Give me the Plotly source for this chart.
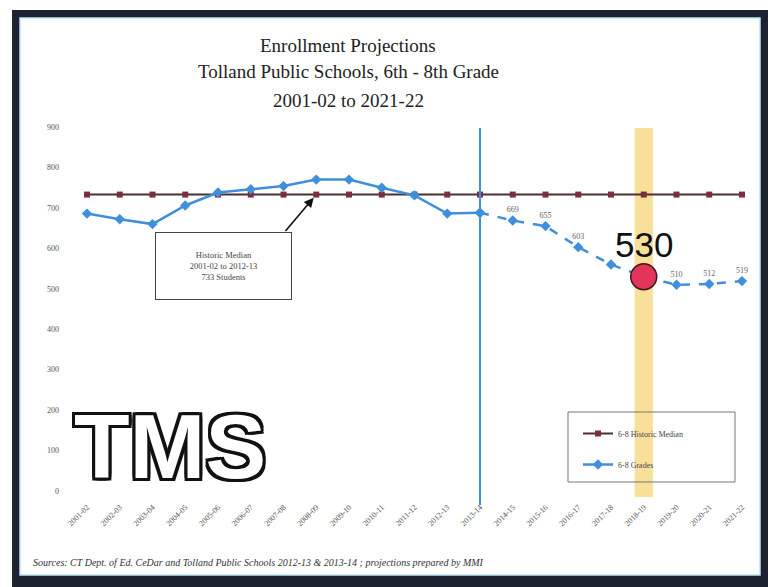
import plotly.graph_objects as go

years = ["2001-02", "2002-03", "2003-04", "2004-05", "2005-06", "2006-07", "2007-08",
         "2008-09", "2009-10", "2010-11", "2011-12", "2012-13", "2013-14", "2014-15",
         "2015-16", "2016-17", "2017-18", "2018-19", "2019-20", "2020-21", "2021-22"]
historic = [686, 672, 660, 706, 738, 746, 754, 770, 770, 750, 731, 686, 688]
projected = [688, 669, 655, 603, 560, 530, 510, 512, 519]
median_value = 733
median = [median_value] * len(years)
highlight_year = "2018-19"
highlight_value = 530
yticks = [0, 100, 200, 300, 400, 500, 600, 700, 800, 900]

hist_years = years[:len(historic)]
proj_years = years[len(historic) - 1:]
proj_labels = ["" if (y in ("2013-14", "2017-18", highlight_year)) else str(v)
               for y, v in zip(proj_years, projected)]

L, R, T, B = 60, 18, 122, 87
W, H = 768 - L - R, 587 - T - B


def px(x):
    return (x - L) / W


def py(y):
    return (587 - B - y) / H


BLUE = "#3f8fdc"
SERIF = "Liberation Serif, DejaVu Serif, serif"

fig = go.Figure()
fig.add_trace(go.Scatter(
    x=years, y=median, mode="lines+markers", name="6-8 Historic Median",
    line=dict(color="#4a2f30", width=2),
    marker=dict(symbol="square", size=6, color="#7d2d3e"),
    legendgroup="a"))
fig.add_trace(go.Scatter(
    x=hist_years, y=historic, mode="lines+markers", name="6-8 Grades",
    line=dict(color=BLUE, width=2.5),
    marker=dict(symbol="diamond", size=8, color=BLUE),
    legendgroup="b"))
fig.add_trace(go.Scatter(
    x=proj_years, y=projected, mode="lines+markers+text", name="6-8 Grades",
    line=dict(color=BLUE, width=2.5, dash="dash"),
    marker=dict(symbol="diamond", size=8, color=BLUE),
    text=proj_labels, textposition="top center",
    textfont=dict(family=SERIF, size=8, color="#666"),
    showlegend=False, legendgroup="b"))
fig.add_trace(go.Scatter(
    x=[highlight_year], y=[highlight_value], mode="markers", showlegend=False,
    marker=dict(size=26, color="#e3345a", line=dict(color="#3a1a1a", width=1.5))))

# frame
fig.add_shape(type="rect", xref="paper", yref="paper",
              x0=px(12), x1=px(772), y0=py(591), y1=py(10),
              fillcolor="#1d2230", line=dict(width=0), layer="below")
fig.add_shape(type="rect", xref="paper", yref="paper",
              x0=px(20), x1=px(760), y0=py(575), y1=py(18),
              fillcolor="white", line=dict(color="#bfe3f3", width=1.5), layer="below")
# highlight band and split line
fig.add_shape(type="rect", xref="x", yref="paper",
              x0=16.72, x1=17.28, y0=py(497), y1=py(128),
              fillcolor="#f5d57a", opacity=0.75, line=dict(width=0), layer="below")
fig.add_shape(type="line", xref="x", yref="paper",
              x0=12, x1=12, y0=py(505), y1=py(128),
              line=dict(color="#3f8fdc", width=2))
# legend box
fig.add_shape(type="rect", xref="paper", yref="paper",
              x0=px(568), x1=px(735), y0=py(482), y1=py(412),
              line=dict(color="#777", width=1), fillcolor="rgba(0,0,0,0)")

ann = []
for i, (t, y) in enumerate(zip(["Enrollment Projections",
                                "Tolland Public Schools, 6th - 8th Grade",
                                "2001-02 to 2021-22"], [45, 72, 100])):
    ann.append(dict(text=t, x=px(348), y=py(y), xref="paper", yref="paper",
                    showarrow=False, xanchor="center", yanchor="middle",
                    font=dict(family=SERIF, size=19, color="#222")))
ann.append(dict(text="Historic Median<br>2001-02 to 2012-13<br>733 Students",
                x=px(223), y=py(266), xref="paper", yref="paper", showarrow=False,
                xanchor="center", yanchor="middle", width=133, height=64,
                bordercolor="#444", borderwidth=1, bgcolor="white",
                font=dict(family=SERIF, size=8.5, color="#444")))
ann.append(dict(text="", x="2008-09", y=median_value, xref="x", yref="y",
                ax=-32, ay=38, showarrow=True, arrowhead=2, arrowsize=1.2,
                arrowwidth=1.6, arrowcolor="#111", standoff=4))
ann.append(dict(text=str(highlight_value), x=highlight_year, y=highlight_value,
                xref="x", yref="y", showarrow=False, yshift=32,
                font=dict(family="Liberation Sans, Arial, sans-serif", size=35, color="#111")))
ann.append(dict(text="TMS", x=px(170), y=py(446), xref="paper", yref="paper",
                showarrow=False, xanchor="center", yanchor="middle",
                font=dict(family="Liberation Sans, Arial, sans-serif",
                          size=91, weight="bold", color="white",
                          shadow="-3px -3px 0 #111, 3px -3px 0 #111, -3px 3px 0 #111, "
                                 "3px 3px 0 #111, 0 3px 0 #111, 3px 0 0 #111, "
                                 "0 -3px 0 #111, -3px 0 0 #111")))
ann.append(dict(text="<i>Sources: CT Dept. of Ed. CeDar and Tolland Public Schools 2012-13 &amp; "
                     "2013-14 ; projections prepared by MMI</i>",
                x=px(31), y=py(562), xref="paper", yref="paper", showarrow=False,
                xanchor="left", yanchor="middle",
                font=dict(family=SERIF, size=10, color="#333")))

x0 = -(87 - L) / 32.75
y0 = (491 - (587 - B)) / 0.4044
y1 = (491 - T) / 0.4044
fig.update_layout(
    width=768, height=587, margin=dict(l=L, r=R, t=T, b=B),
    paper_bgcolor="white", plot_bgcolor="rgba(0,0,0,0)",
    showlegend=True,
    legend=dict(x=px(578), y=py(419), xanchor="left", yanchor="top",
                bgcolor="rgba(0,0,0,0)", tracegroupgap=12,
                font=dict(family=SERIF, size=8, color="#444")),
    xaxis=dict(type="category", categoryorder="array", categoryarray=years,
               range=[x0, x0 + W / 32.75], showgrid=False, zeroline=False,
               showline=False, tickangle=-45, ticks="", color="#555",
               tickfont=dict(family=SERIF, size=8, color="#555")),
    yaxis=dict(range=[y0, y1], tickvals=yticks, showgrid=False, zeroline=False,
               showline=False, ticks="", color="#555",
               tickfont=dict(family=SERIF, size=8, color="#555")),
    annotations=ann,
)
fig.write_html("out.html", config={"displayModeBar": False},
               post_script="document.body.style.margin='0';")
